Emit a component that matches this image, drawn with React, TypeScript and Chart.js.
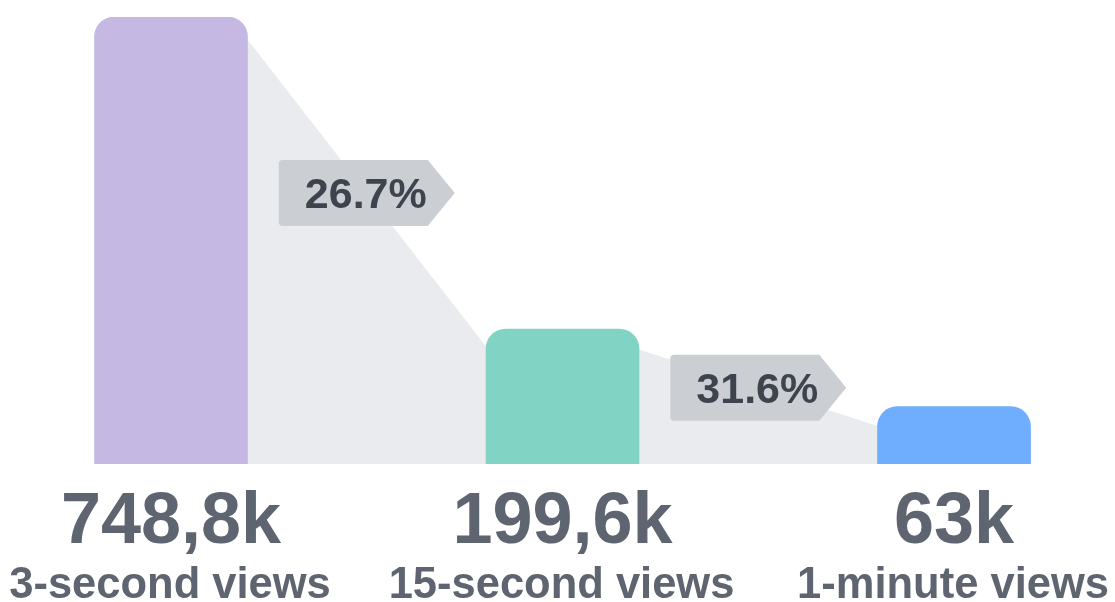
import React, { useEffect, useRef } from "react";
import { Chart, registerables } from "chart.js";

Chart.register(...registerables);

const categories = ["3-second views", "15-second views", "1-minute views"];
const values = [748.8, 199.6, 63];
const valueLabels = ["748,8k", "199,6k", "63k"];
const stepLabels = ["26.7%", "31.6%"];
const barColors = ["#c5b8e3", "#81d4c4", "#6fadfe"];

const FONT = "'Liberation Sans', Arial, Helvetica, sans-serif";
const RADIUS = 20;
const Y_MIN = -38;

const funnelPlugin = {
  id: "funnel",
  beforeDatasetsDraw(chart: any) {
    const meta = chart.getDatasetMeta(0);
    const ctx = chart.ctx;
    const base = chart.chartArea.bottom;
    ctx.save();
    ctx.fillStyle = "#eaebef";
    for (let i = 0; i < meta.data.length - 1; i++) {
      const a = meta.data[i];
      const b = meta.data[i + 1];
      const ax = a.x + a.width / 2 - 2;
      const bx = b.x - b.width / 2 + 2;
      ctx.beginPath();
      ctx.moveTo(ax, a.y + RADIUS);
      ctx.lineTo(bx, b.y + RADIUS);
      ctx.lineTo(bx, base);
      ctx.lineTo(ax, base);
      ctx.closePath();
      ctx.fill();
    }
    ctx.restore();
  },
  afterDatasetsDraw(chart: any) {
    const meta = chart.getDatasetMeta(0);
    const ctx = chart.ctx;
    ctx.save();
    for (let i = 0; i < meta.data.length - 1; i++) {
      const a = meta.data[i];
      const b = meta.data[i + 1];
      const ax = a.x + a.width / 2;
      const bx = b.x - b.width / 2;
      const mx = (ax + bx) / 2;
      const my = (a.y + b.y) / 2 + RADIUS;
      const w = 176;
      const h = 66;
      const tip = 27;
      const l = mx - w / 2;
      const r = mx + w / 2;
      const t = my - h / 2;
      const btm = my + h / 2;
      const cr = 4;
      ctx.beginPath();
      ctx.moveTo(l + cr, t);
      ctx.lineTo(r - tip, t);
      ctx.lineTo(r, my);
      ctx.lineTo(r - tip, btm);
      ctx.lineTo(l + cr, btm);
      ctx.quadraticCurveTo(l, btm, l, btm - cr);
      ctx.lineTo(l, t + cr);
      ctx.quadraticCurveTo(l, t, l + cr, t);
      ctx.closePath();
      ctx.fillStyle = "#cbced3";
      ctx.fill();
      ctx.fillStyle = "#3e444d";
      ctx.font = `bold 43px ${FONT}`;
      ctx.textAlign = "center";
      ctx.textBaseline = "alphabetic";
      ctx.fillText(stepLabels[i], mx - 1, my + 15);
    }
    ctx.restore();
  },
  afterDraw(chart: any) {
    const ctx = chart.ctx;
    const xs = chart.scales.x;
    const base = chart.chartArea.bottom;
    ctx.save();
    ctx.fillStyle = "#5e6570";
    ctx.textAlign = "center";
    ctx.textBaseline = "alphabetic";
    for (let i = 0; i < categories.length; i++) {
      const x = xs.getPixelForValue(i);
      ctx.font = `bold 72px ${FONT}`;
      ctx.fillText(valueLabels[i], x, base + 79);
      ctx.font = `bold 43.5px ${FONT}`;
      ctx.fillText(categories[i], x - 1, base + 134);
    }
    ctx.restore();
  },
};

export default function App() {
  const ref = useRef<HTMLCanvasElement>(null);
  useEffect(() => {
    document.body.style.margin = "0";
    const chart = new Chart(ref.current!, {
      type: "bar",
      data: {
        datasets: [
          {
            data: values.map((v, i) => ({ x: i, y: v })),
            backgroundColor: barColors,
            barThickness: 153,
            base: Y_MIN,
            borderWidth: 0,
            borderSkipped: false,
            borderRadius: { topLeft: RADIUS, topRight: RADIUS, bottomLeft: 0, bottomRight: 0 },
          },
        ],
      },
      options: {
        responsive: false,
        animation: false,
        layout: { padding: { top: 17, bottom: 138, left: 0, right: 0 } },
        plugins: { legend: { display: false }, tooltip: { enabled: false } },
        scales: {
          x: { type: "linear", display: false, offset: false, grid: { offset: false }, min: -0.4368, max: 2.4112 },
          y: { display: false, min: Y_MIN, max: 748.8 },
        },
      },
      plugins: [funnelPlugin],
    });
    return () => chart.destroy();
  }, []);
  return (
    <div style={{ width: 1115, height: 602 }}>
      <canvas ref={ref} width={1115} height={602} style={{ display: "block" }} />
    </div>
  );
}
